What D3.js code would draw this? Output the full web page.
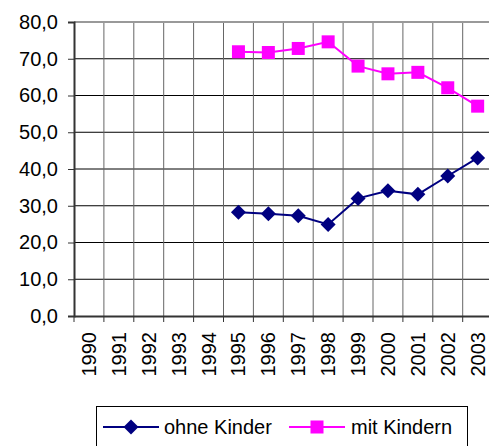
<!DOCTYPE html>
<html>
<head>
<meta charset="utf-8">
<script src="https://cdn.jsdelivr.net/npm/d3@7"></script>
<style>
  body { margin: 0; background: #fff; }
  svg { display: block; font-family: "Liberation Sans", Arial, sans-serif; overflow: hidden; }
</style>
</head>
<body>
<svg id="chart"></svg>
<script>
const YEARS = ["1990", "1991", "1992", "1993", "1994", "1995", "1996", "1997", "1998", "1999", "2000", "2001", "2002", "2003"];
const DATA_YEARS = ["1995", "1996", "1997", "1998", "1999", "2000", "2001", "2002", "2003"];
const OHNE_KINDER = [28.2, 27.8, 27.3, 24.9, 32.0, 34.1, 33.1, 38.1, 43.0];
const MIT_KINDERN = [71.9, 71.7, 72.8, 74.6, 68.0, 65.9, 66.3, 62.1, 57.1];
const Y_TICKS = [0, 10, 20, 30, 40, 50, 60, 70, 80];

const W = 489, H = 446;
const plot = { left: 74, top: 22, bottom: 316, right: 492.6 };
const FONT = 20;

const svg = d3.select("#chart").attr("width", W).attr("height", H);

const x = d3.scaleBand().domain(YEARS).range([plot.left, plot.right]).padding(0);
const y = d3.scaleLinear().domain([0, 80]).range([plot.bottom, plot.top]);
const fmt = v => d3.format(".1f")(v).replace(".", ",");

// horizontal gridlines
svg.append("g")
  .selectAll("line")
  .data(Y_TICKS.filter(d => d > 0 && d < 80))
  .join("line")
  .attr("x1", plot.left).attr("x2", plot.right)
  .attr("y1", d => y(d)).attr("y2", d => y(d))
  .attr("stroke", "#000").attr("stroke-width", 1);

// vertical gridlines at category boundaries
svg.append("g")
  .selectAll("line")
  .data(YEARS.slice(1))
  .join("line")
  .attr("x1", d => x(d)).attr("x2", d => x(d))
  .attr("y1", plot.top).attr("y2", plot.bottom)
  .attr("stroke", "#666").attr("stroke-width", 1);

// top border
svg.append("line")
  .attr("x1", plot.left).attr("x2", plot.right)
  .attr("y1", plot.top).attr("y2", plot.top)
  .attr("stroke", "#999").attr("stroke-width", 2);

// y axis
const yAxis = svg.append("g")
  .attr("transform", `translate(${plot.left},0)`)
  .call(d3.axisLeft(y).tickValues(Y_TICKS).tickFormat(fmt).tickSize(6).tickPadding(10));
yAxis.select(".domain").attr("stroke", "#333").attr("stroke-width", 2);
yAxis.selectAll(".tick line").attr("stroke", "#333");
yAxis.selectAll("text").attr("font-size", FONT).attr("fill", "#000")
  .attr("font-family", "Liberation Sans, Arial, sans-serif");

// x axis
const xAxis = svg.append("g")
  .attr("transform", `translate(0,${plot.bottom})`)
  .call(d3.axisBottom(x).tickSize(0).tickFormat(d => d));
xAxis.select(".domain").attr("stroke", "#333").attr("stroke-width", 2);
xAxis.selectAll(".tick text")
  .attr("font-size", FONT).attr("fill", "#000")
  .attr("font-family", "Liberation Sans, Arial, sans-serif")
  .attr("transform", "rotate(-90)")
  .attr("text-anchor", "end")
  .attr("x", -16).attr("y", 0).attr("dy", "0.35em");
// tick marks between categories
svg.append("g")
  .selectAll("line")
  .data(YEARS)
  .join("line")
  .attr("x1", d => x(d)).attr("x2", d => x(d))
  .attr("y1", plot.bottom).attr("y2", plot.bottom + 6)
  .attr("stroke", "#333");

const series = [
  { name: "ohne Kinder", values: OHNE_KINDER, color: "#000080", marker: "diamond" },
  { name: "mit Kindern", values: MIT_KINDERN, color: "#ff00ff", marker: "square" }
];

const cx = d => x(d) + x.bandwidth() / 2;

function drawMarker(g, type, color) {
  if (type === "diamond") {
    g.append("path").attr("d", "M0,-7.5L7.5,0L0,7.5L-7.5,0Z").attr("fill", color);
  } else {
    g.append("rect").attr("x", -6.5).attr("y", -6.5).attr("width", 13).attr("height", 13).attr("fill", color);
  }
}

series.forEach(s => {
  const pts = DATA_YEARS.map((yr, i) => [cx(yr), y(s.values[i])]);
  svg.append("path")
    .attr("d", d3.line()(pts))
    .attr("fill", "none").attr("stroke", s.color).attr("stroke-width", 2);
  pts.forEach(p => {
    const g = svg.append("g").attr("transform", `translate(${p[0]},${p[1]})`);
    drawMarker(g, s.marker, s.color);
  });
});

// legend
const legend = svg.append("g");
legend.append("rect")
  .attr("x", 96.5).attr("y", 406.5).attr("width", 371).attr("height", 60)
  .attr("fill", "#fff").attr("stroke", "#000").attr("stroke-width", 1);
const legendItems = [
  { s: series[0], x0: 103, tx: 164 },
  { s: series[1], x0: 289, tx: 351 }
];
legendItems.forEach(it => {
  const ly = 427;
  legend.append("line")
    .attr("x1", it.x0).attr("x2", it.x0 + 56)
    .attr("y1", ly).attr("y2", ly)
    .attr("stroke", it.s.color).attr("stroke-width", 2);
  const g = legend.append("g").attr("transform", `translate(${it.x0 + 28},${ly})`);
  drawMarker(g, it.s.marker, it.s.color);
  legend.append("text")
    .attr("x", it.tx).attr("y", ly).attr("dy", "0.35em")
    .attr("font-size", FONT).attr("fill", "#000")
    .text(it.s.name);
});
</script>
</body>
</html>
